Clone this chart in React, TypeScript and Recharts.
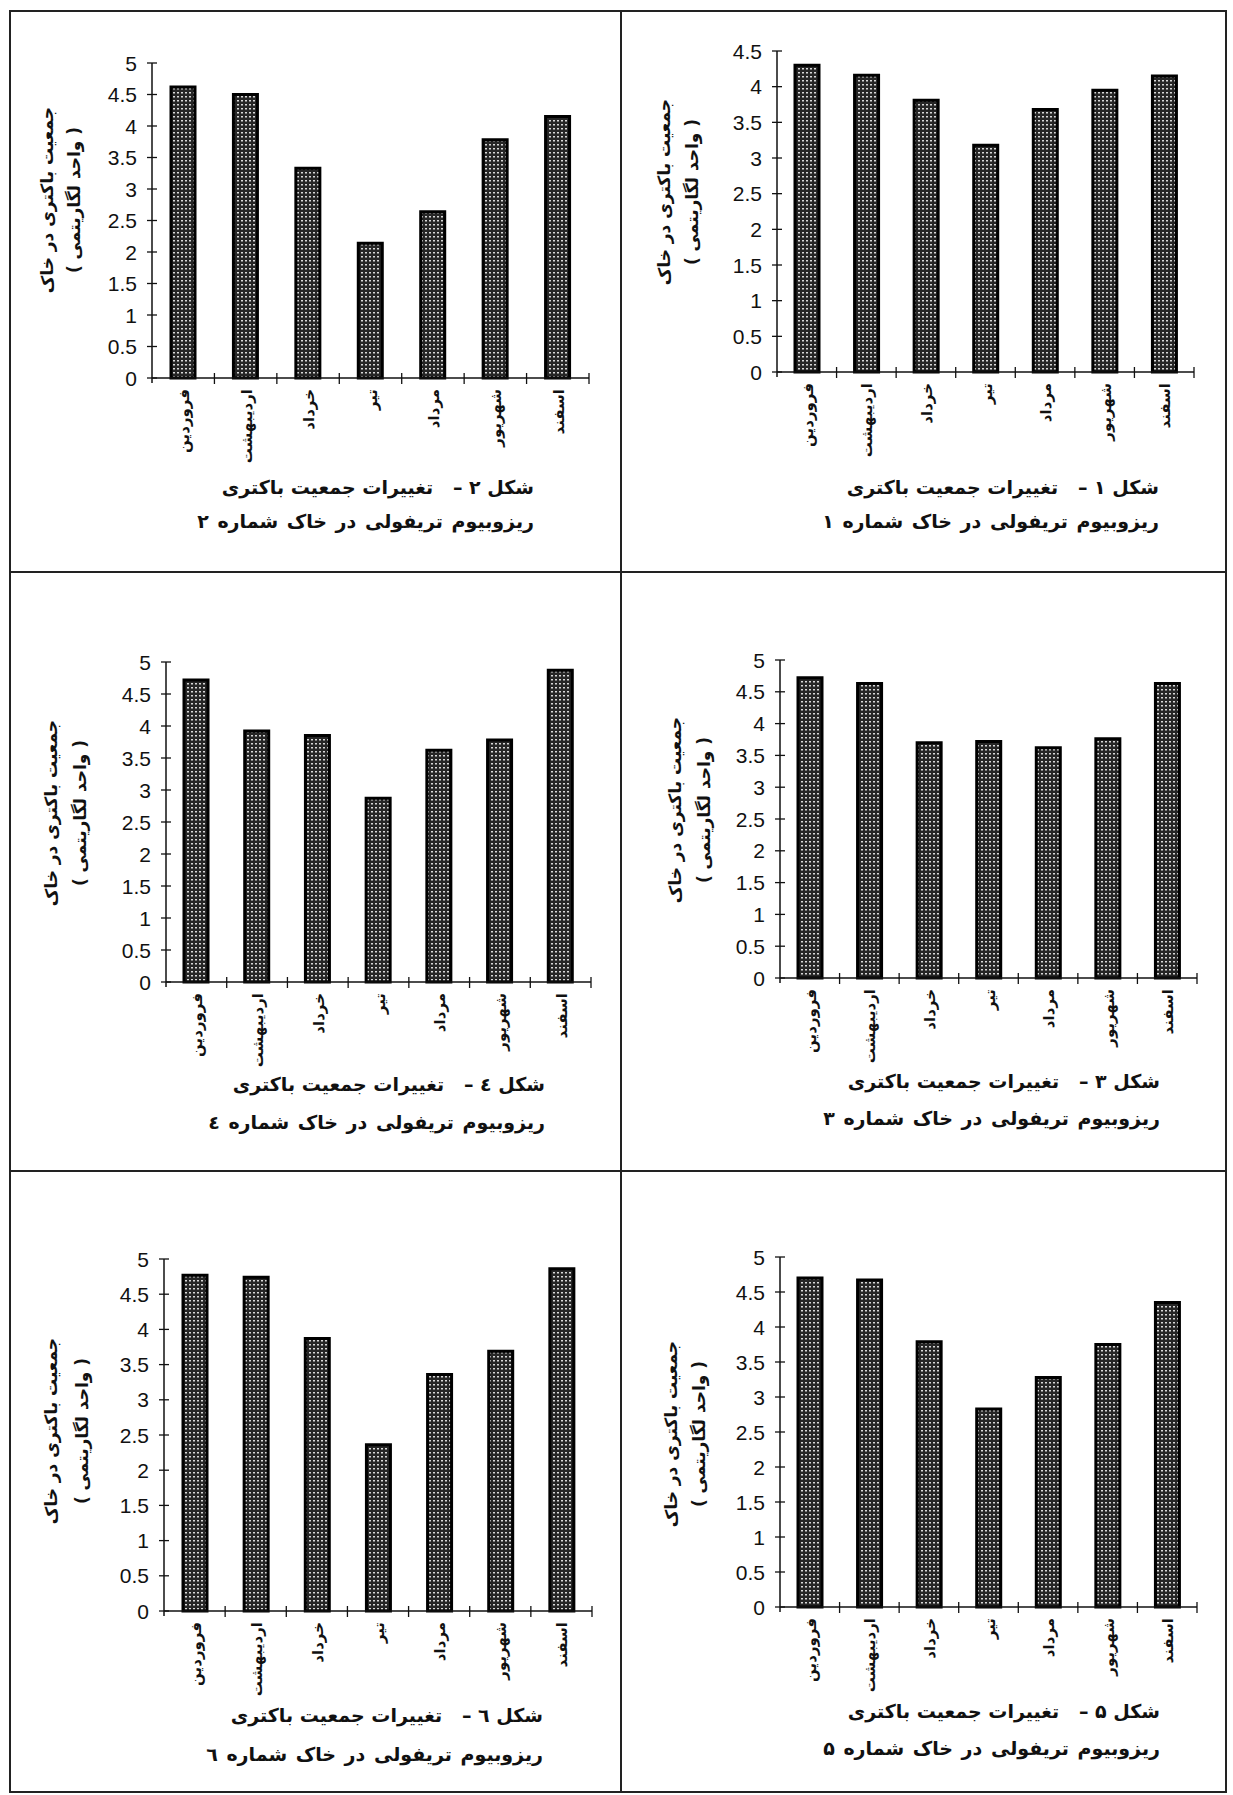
import React from 'react';
import { BarChart, Bar, XAxis, YAxis } from 'recharts';

// months (Persian calendar), same order in every panel
const months = ['فروردین', 'اردیبهشت', 'خرداد', 'تیر', 'مرداد', 'شهریور', 'اسفند'];

// bacterial population per soil (log units)
const soil1 = [4.3, 4.16, 3.81, 3.18, 3.68, 3.95, 4.15];
const soil2 = [4.62, 4.5, 3.33, 2.14, 2.64, 3.78, 4.15];
const soil3 = [4.72, 4.63, 3.7, 3.72, 3.62, 3.76, 4.63];
const soil4 = [4.72, 3.92, 3.85, 2.87, 3.62, 3.78, 4.87];
const soil5 = [4.7, 4.67, 3.79, 2.83, 3.28, 3.75, 4.35];
const soil6 = [4.77, 4.74, 3.87, 2.36, 3.36, 3.69, 4.86];

const ticks5 = [0, 0.5, 1, 1.5, 2, 2.5, 3, 3.5, 4, 4.5, 5];
const ticks45 = [0, 0.5, 1, 1.5, 2, 2.5, 3, 3.5, 4, 4.5];

const yTitle1 = 'جمعیت باکتری در خاک';
const yTitle2 = '( واحد لگاریتمی )';

const FA = '"DejaVu Sans", sans-serif';
const NUM = 'Arial, "Liberation Sans", sans-serif';
const INK = '#111';

// page layout of the six panels
const panels = [
  { num: '۲', values: soil2, ticks: ticks5, max: 5, axisX: 152, endX: 589, topY: 63, zeroY: 378, t1: 47, t2: 74, tY: 200, capR: 534, cap1: 487, cap2: 521 },
  { num: '۱', values: soil1, ticks: ticks45, max: 4.5, axisX: 777, endX: 1194, topY: 51, zeroY: 372, t1: 664, t2: 692, tY: 192, capR: 1159, cap1: 487, cap2: 521 },
  { num: '٤', values: soil4, ticks: ticks5, max: 5, axisX: 166, endX: 591, topY: 662, zeroY: 982, t1: 51, t2: 80, tY: 813, capR: 545, cap1: 1084, cap2: 1122 },
  { num: '۳', values: soil3, ticks: ticks5, max: 5, axisX: 780, endX: 1197, topY: 660, zeroY: 978, t1: 675, t2: 704, tY: 810, capR: 1160, cap1: 1081, cap2: 1118 },
  { num: '٦', values: soil6, ticks: ticks5, max: 5, axisX: 164, endX: 592, topY: 1259, zeroY: 1611, t1: 51, t2: 82, tY: 1431, capR: 543, cap1: 1715, cap2: 1754 },
  { num: '۵', values: soil5, ticks: ticks5, max: 5, axisX: 780, endX: 1197, topY: 1257, zeroY: 1607, t1: 671, t2: 699, tY: 1434, capR: 1160, cap1: 1711, cap2: 1748 },
];

function YTick(props: any) {
  const { x, y, payload } = props;
  return (
    <g>
      <line x1={x - 5} x2={x + 5} y1={y} y2={y} stroke={INK} strokeWidth={1.3} />
      <text x={x - 15} y={y} textAnchor="end" dominantBaseline="central" fontFamily={NUM} fontSize={21} fill={INK}>
        {payload.value}
      </text>
    </g>
  );
}

function makeXTick(band: number) {
  return function XTick(props: any) {
    const { x, y, payload, index } = props;
    return (
      <g>
        <line x1={x + band / 2} x2={x + band / 2} y1={y - 5} y2={y + 6} stroke={INK} strokeWidth={1.3} />
        {index === 0 && <line x1={x - band / 2} x2={x - band / 2} y1={y} y2={y + 5} stroke={INK} strokeWidth={1.5} />}
        <text
          transform={`translate(${x + 1},${y + 11}) rotate(-90)`}
          textAnchor="end"
          dominantBaseline="central"
          fontFamily={FA}
          fontWeight="bold"
          fontSize={15}
          fill={INK}
        >
          {payload.value}
        </text>
      </g>
    );
  };
}

function Panel({ p }: { p: any }) {
  const padL = 80, padR = 20, padT = 20, padB = 100;
  const w = p.endX - p.axisX;
  const h = p.zeroY - p.topY;
  const data = months.map((m, i) => ({ month: m, value: p.values[i] }));
  return (
    <div style={{ position: 'absolute', left: p.axisX - padL, top: p.topY - padT }}>
      <BarChart width={w + padL + padR} height={h + padT + padB} data={data} margin={{ top: padT, right: padR, left: 0, bottom: 0 }}>
        <XAxis
          dataKey="month"
          height={padB}
          interval={0}
          tickLine={false}
          tickSize={0}
          tickMargin={0}
          axisLine={{ stroke: INK, strokeWidth: 1.5 }}
          tick={makeXTick(w / 7)}
        />
        <YAxis
          width={padL}
          domain={[0, p.max]}
          ticks={p.ticks}
          interval={0}
          tickLine={false}
          tickSize={0}
          tickMargin={0}
          axisLine={{ stroke: INK, strokeWidth: 1.5 }}
          tick={<YTick />}
        />
        <Bar dataKey="value" barSize={24} fill="url(#stipple)" stroke="#000" strokeWidth={3} isAnimationActive={false} />
      </BarChart>
    </div>
  );
}

const line = (s: any) => ({ position: 'absolute' as const, background: '#222', ...s });

export default function App() {
  return (
    <div style={{ position: 'absolute', left: 0, top: 0, width: 1233, height: 1795, background: '#fff', overflow: 'hidden' }}>
      <svg width={0} height={0} style={{ position: 'absolute' }}>
        <defs>
          <pattern id="stipple" width={4} height={4} patternUnits="userSpaceOnUse">
            <rect width={4} height={4} fill="#262626" />
            <rect x={1} y={1} width={2} height={1.5} fill="#d8d8d8" />
          </pattern>
        </defs>
      </svg>

      {/* frame */}
      <div style={line({ left: 10, top: 10, width: 1217, height: 2 })} />
      <div style={line({ left: 10, top: 1791, width: 1217, height: 2 })} />
      <div style={line({ left: 9, top: 10, width: 2, height: 1783 })} />
      <div style={line({ left: 1225, top: 10, width: 2, height: 1783 })} />
      <div style={line({ left: 620, top: 10, width: 2, height: 1783 })} />
      <div style={line({ left: 10, top: 571, width: 1217, height: 2 })} />
      <div style={line({ left: 10, top: 1170, width: 1217, height: 2 })} />

      {panels.map((p) => (
        <Panel key={p.num} p={p} />
      ))}

      <svg width={1233} height={1795} style={{ position: 'absolute', left: 0, top: 0, pointerEvents: 'none' }}>
        {panels.map((p) => (
          <g key={p.num} fontFamily={FA} fontWeight="bold" fontSize={17} fill={INK}>
            <text transform={`translate(${p.t1},${p.tY}) rotate(-90)`} textAnchor="middle" dominantBaseline="central">
              {yTitle1}
            </text>
            <text transform={`translate(${p.t2},${p.tY}) rotate(-90)`} textAnchor="middle" dominantBaseline="central">
              {yTitle2}
            </text>
          </g>
        ))}
      </svg>

      {panels.map((p) => (
        <div key={p.num} dir="rtl" style={{ position: 'absolute', right: 1233 - p.capR, top: p.cap1 - 13, fontFamily: FA, fontWeight: 'bold', fontSize: 19, lineHeight: '26px', color: INK, whiteSpace: 'nowrap' }}>
          <div>{`شکل ${p.num} –\u00A0\u00A0\u00A0تغییرات جمعیت باکتری`}</div>
          <div style={{ marginTop: p.cap2 - p.cap1 - 26, wordSpacing: 2 }}>{`ریزوبیوم تریفولی در خاک شماره ${p.num}`}</div>
        </div>
      ))}
    </div>
  );
}
